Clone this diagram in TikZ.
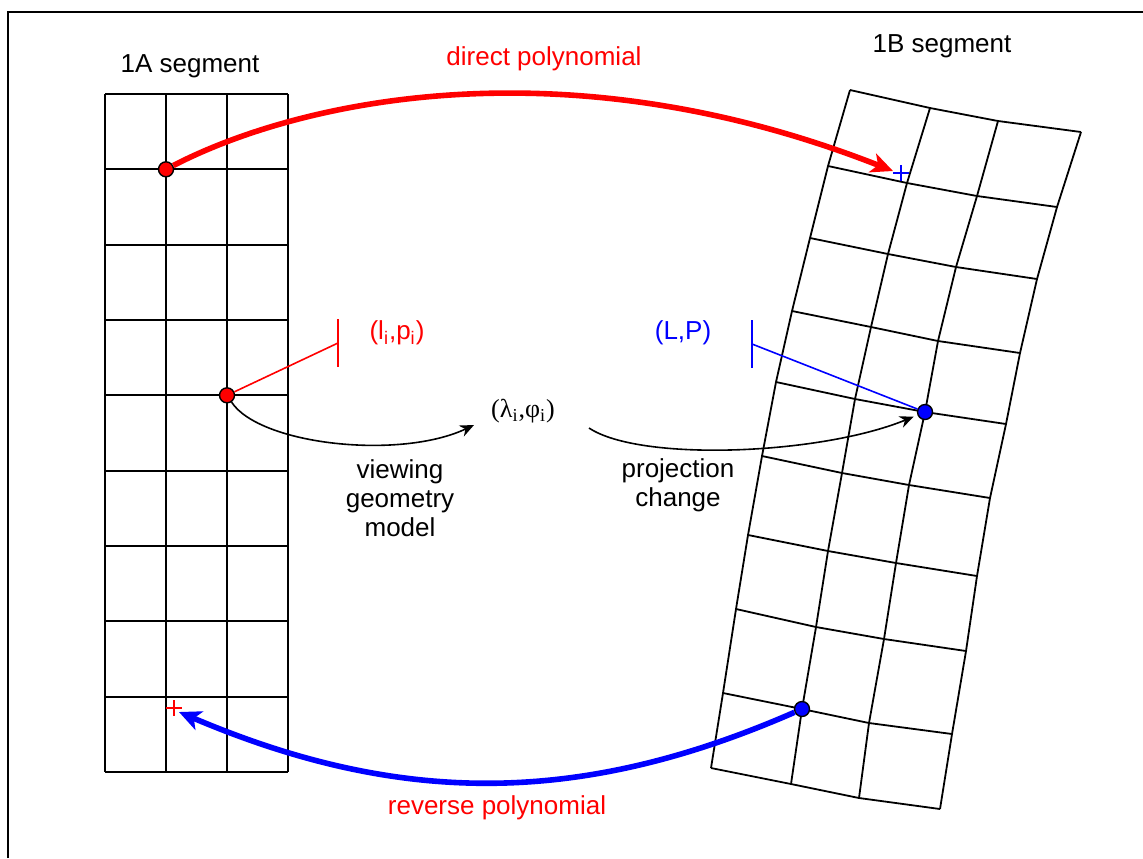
\documentclass[tikz,border=0pt]{standalone}
\usepackage{fontspec}
\setmainfont{Liberation Sans}
\newfontfamily\grfont{Liberation Serif}
\usetikzlibrary{arrows.meta,positioning}
\definecolor{rd}{RGB}{255,0,0}
\definecolor{bl}{RGB}{0,0,255}
\tikzset{gl/.style={line width=.9pt},
 rdot/.style={circle,draw,line width=.7pt,fill=rd,inner sep=0pt,minimum size=7.5pt},
 bdot/.style={rdot,fill=bl},
 poly/.style={line width=2.8pt,-{Stealth[length=11pt,width=10pt,inset=3pt]}},
 arr/.style={line width=.8pt,-{Stealth[length=7pt,width=6pt]}},
 tick/.style={line width=.8pt},
 every node/.style={font=\fontsize{13}{14.5}\selectfont}}

\begin{document}
\begin{tikzpicture}[x=.5pt,y=-.5pt]
\useasboundingbox (0,0) rectangle (1143,858);
\draw[line width=1pt] (8,858) -- (8,12) -- (1143,12);
% 1A segment
\foreach \i in {0,...,9} \draw[gl] (105,94+75.33*\i) -- (288,94+75.33*\i);
\foreach \x in {105,166,227,288} \draw[gl] (\x,94) -- (\x,772);
% 1B segment
\foreach \r/\xa/\ya/\xb/\yb/\xc/\yc/\xd/\yd in {
 0/850/90/930/108/998/121/1081/132,
 1/828/166/907/183/977/196/1057/207,
 2/810/238/888/254/956/267/1037/279,
 3/792/311/871/327/938/341/1020/353,
 4/776/382/855/399/925/412/1006/424,
 5/762/456/842/473/909/485/990/498,
 6/748/535/828/551/896/563/977/576,
 7/736/609/816/627/884/639/966/651,
 8/723/693/802/709/869/723/952/734,
 9/711/768/791/784/859/798/940/809}{
 \coordinate (g\r-0) at (\xa,\ya);
 \coordinate (g\r-1) at (\xb,\yb);
 \coordinate (g\r-2) at (\xc,\yc);
 \coordinate (g\r-3) at (\xd,\yd);
}
\foreach \r in {0,...,9} \draw[gl] (g\r-0) -- (g\r-1) -- (g\r-2) -- (g\r-3);
\foreach \c in {0,...,3} \draw[gl] (g0-\c) \foreach \r in {1,...,9} {-- (g\r-\c)};
% labels
\node (sa) at (190,66) {1A segment};
\node (sb) at (942,46) {1B segment};
\node[text=rd] (dp) at (544,59) {direct polynomial};
\node[text=rd] (rp) at (497,808) {reverse polynomial};
\node[text=rd] (lp) at (397,333) {(l\textsubscript{i},p\textsubscript{i})};
\node[text=bl] (LP) at (683,333) {(L,P)};
\node (lf) at (523,411) {\grfont(λ\textsubscript{i},φ\textsubscript{i})};
\node[align=center] (vg) at (400,498) {viewing\\geometry\\model};
\node[align=center] (pc) at (678,485) {projection\\change};
% points
\node[rdot] (pa) at (166,169.3) {};
\node[rdot] (pb) at (227,395.3) {};
\node[bdot] (qb) at (g4-2) {};
\node[bdot] (qa) at (g8-1) {};
\coordinate (ma) at (901,173);
\coordinate (mb) at (174,708);
\draw[bl,tick] (ma) ++(-8,0) -- ++(16,0) (ma) ++(0,-8) -- ++(0,16);
\draw[rd,tick] (mb) ++(-8,0) -- ++(16,0) (mb) ++(0,-8) -- ++(0,16);
% image coordinates
\coordinate (tl) at (338,343);
\draw[rd,tick] (tl) ++(0,-24) -- ++(0,48);
\draw[rd,tick] (pb) -- (tl);
\coordinate (tr) at (752,344);
\draw[bl,tick] (tr) ++(0,-24) -- ++(0,48);
\draw[bl,tick] (qb) -- (tr);
% polynomials
\coordinate (ea) at (893,171);
\draw[poly,rd] (pa) .. controls (300,100) and (565,42) .. (ea);
\coordinate (eb) at (179,712);
\draw[poly,bl] (qa) .. controls (580,806) and (400,806) .. (eb);
% model chain
\coordinate (ca) at (474,425);
\draw[arr] (pb) .. controls (260,445) and (400,460) .. (ca);
\coordinate (cs) at (589,428);
\draw[arr,shorten >=2pt] (cs) .. controls (640,462) and (820,455) .. (qb);
\end{tikzpicture}
\end{document}
